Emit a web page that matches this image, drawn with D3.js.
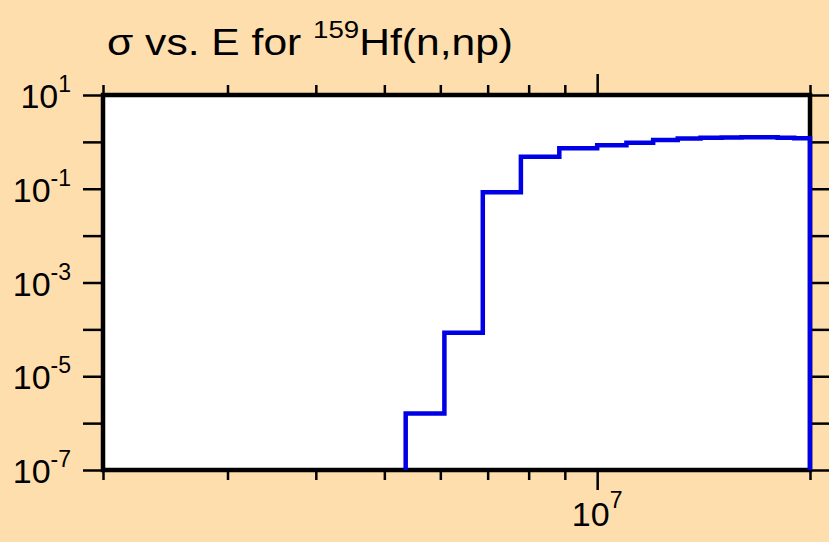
<!DOCTYPE html>
<html>
<head>
<meta charset="utf-8">
<script src="https://cdn.jsdelivr.net/npm/d3@7"></script>
<style>
  html, body { margin: 0; padding: 0; background: #FFDEAD; }
  svg { display: block; }
  text { font-family: "Liberation Sans", Arial, sans-serif; fill: #000; }
</style>
</head>
<body>
<svg id="chart" width="829" height="542"></svg>
<script>
// ---- data ----
const binEdges = [5.36e6, 6.08e6, 6.89e6, 7.80e6, 8.84e6, 1.0e7, 1.1e7, 1.2e7, 1.3e7, 1.4e7, 1.5e7, 1.6e7, 1.7e7, 1.8e7, 1.9e7, 2.0e7];
const sigmaValues = [1.6e-6, 8.5e-5, 0.084, 0.48, 0.73, 0.85, 0.96, 1.10, 1.18, 1.22, 1.24, 1.25, 1.25, 1.23, 1.20];
const xDomain = [2e6, 2e7];
const yDomain = [1e-7, 1e1];
const xMinorTicks = [2e6, 3e6, 4e6, 5e6, 6e6, 7e6, 8e6, 9e6, 2e7];
const xMajorTicks = [1e7];
const xLabelExps = [7];
const yTickExps = [-7, -6, -5, -4, -3, -2, -1, 0, 1];
const yLabelExps = [-7, -5, -3, -1, 1];
const titleParts = { pre: "\u03c3 vs. E for ", sup: "159", post: "Hf(n,np)" };

// ---- layout ----
const W = 829, H = 542;
const plot = { left: 103, right: 810, top: 95, bottom: 470 };

const svg = d3.select("#chart");
svg.append("rect").attr("width", W).attr("height", H).attr("fill", "#FFDEAD");

const x = d3.scaleLog().domain(xDomain).range([plot.left, plot.right]);
const y = d3.scaleLog().domain(yDomain).range([plot.bottom, plot.top]);

// plot background
svg.append("rect")
  .attr("x", plot.left).attr("y", plot.top)
  .attr("width", plot.right - plot.left).attr("height", plot.bottom - plot.top)
  .attr("fill", "#ffffff");

// ticks via d3 axes
function styleAxis(g) {
  g.select(".domain").remove();
  g.selectAll(".tick line").attr("stroke", "#000").attr("stroke-width", 2.5);
  g.selectAll(".tick text").remove();
}
svg.append("g").attr("transform", `translate(0,${plot.bottom})`)
  .call(d3.axisBottom(x).tickValues(xMinorTicks).tickSize(10).tickFormat(""))
  .call(styleAxis);
svg.append("g").attr("transform", `translate(0,${plot.bottom})`)
  .call(d3.axisBottom(x).tickValues(xMajorTicks).tickSize(20).tickFormat(""))
  .call(styleAxis);
svg.append("g").attr("transform", `translate(0,${plot.top})`)
  .call(d3.axisTop(x).tickValues(xMinorTicks).tickSize(10).tickFormat(""))
  .call(styleAxis);
svg.append("g").attr("transform", `translate(0,${plot.top})`)
  .call(d3.axisTop(x).tickValues(xMajorTicks).tickSize(21).tickFormat(""))
  .call(styleAxis);
const yTicks = yTickExps.map(e => Math.pow(10, e));
svg.append("g").attr("transform", `translate(${plot.left},0)`)
  .call(d3.axisLeft(y).tickValues(yTicks).tickSize(20).tickFormat(""))
  .call(styleAxis);
svg.append("g").attr("transform", `translate(${plot.right},0)`)
  .call(d3.axisRight(y).tickValues(yTicks).tickSize(20).tickFormat(""))
  .call(styleAxis);

// frame
svg.append("rect")
  .attr("x", plot.left).attr("y", plot.top)
  .attr("width", plot.right - plot.left).attr("height", plot.bottom - plot.top)
  .attr("fill", "none").attr("stroke", "#000").attr("stroke-width", 4.5);

// y labels
yLabelExps.forEach(e => {
  const t = svg.append("text")
    .attr("x", 71).attr("y", y(Math.pow(10, e)) + 13)
    .attr("text-anchor", "end")
    .style("font-size", "34px");
  t.append("tspan").text("10");
  t.append("tspan").attr("dy", -16).style("font-size", "23px").text(String(e));
});

// x labels
xLabelExps.forEach(e => {
  const t = svg.append("text")
    .attr("x", x(Math.pow(10, e))).attr("y", 526)
    .attr("text-anchor", "middle")
    .style("font-size", "34px");
  t.append("tspan").text("10");
  t.append("tspan").attr("dy", -18).style("font-size", "23px").text(String(e));
});

// title
const title = svg.append("text")
  .attr("x", 107).attr("y", 55)
  .attr("textLength", 406).attr("lengthAdjust", "spacingAndGlyphs")
  .style("font-size", "37px");
title.append("tspan").text(titleParts.pre);
title.append("tspan").attr("dy", -17).style("font-size", "24px").text(titleParts.sup);
title.append("tspan").attr("dy", 17).text(titleParts.post);

// step line
const pts = [[binEdges[0], yDomain[0]]];
sigmaValues.forEach((v, i) => {
  pts.push([binEdges[i], v]);
  pts.push([binEdges[i + 1], v]);
});
pts.push([binEdges[binEdges.length - 1], yDomain[0]]);

svg.append("path")
  .datum(pts)
  .attr("fill", "none")
  .attr("stroke", "#0000e6")
  .attr("stroke-width", 4.5)
  .attr("stroke-linejoin", "miter")
  .attr("d", d3.line().x(d => x(d[0])).y(d => y(d[1])));
</script>
</body>
</html>
